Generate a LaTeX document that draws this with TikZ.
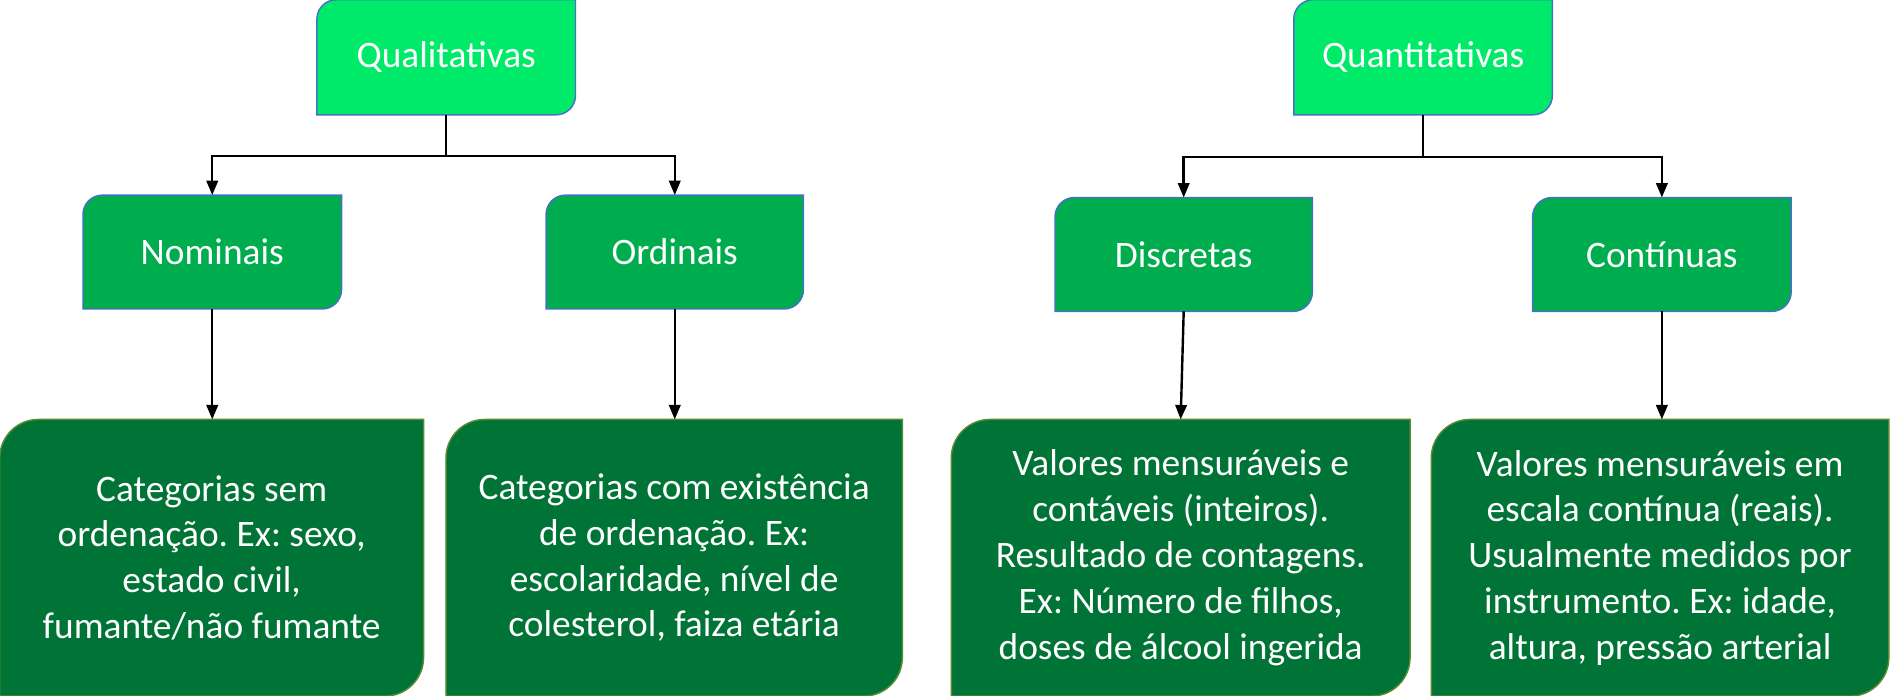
\documentclass[tikz,border=0pt]{standalone}
\usepackage{fontspec}
\setmainfont{Carlito}
\usetikzlibrary{arrows.meta}
\definecolor{topgreen}{HTML}{00EA6A}
\definecolor{midgreen}{HTML}{00AD4E}
\definecolor{darkgreen}{HTML}{007436}
\definecolor{bluebord}{HTML}{4472C4}
\definecolor{olivebord}{HTML}{5A8A32}
\pgfdeclarelayer{background}
\pgfsetlayers{background,main}
\frenchspacing
% #1 node name, #2 corner radius, #3 style
\newcommand\cutbox[3]{%
  \path[#3] (#1.south west) -- ([yshift=-#2]#1.north west)
    arc[start angle=180,end angle=90,radius=#2] -- (#1.north east)
    -- ([yshift=#2]#1.south east)
    arc[start angle=0,end angle=-90,radius=#2] -- cycle;}
\tikzset{
  catnode/.style={rectangle, inner sep=0pt, text=white,
    font=\fontsize{31}{38}\selectfont\frenchspacing, align=center},
  topshape/.style={fill=topgreen, draw=bluebord, line width=1.2pt},
  midshape/.style={fill=midgreen, draw=bluebord, line width=1.2pt},
  descshape/.style={fill=darkgreen, draw=olivebord, line width=1.2pt},
  conn/.style={draw=black, line width=2pt, -{Triangle[length=12pt,width=9.5pt]}}
}
\begin{document}
\begin{tikzpicture}[x=1pt,y=1pt]
\useasboundingbox (0,0) rectangle (1568,-577);
% top level
\node[catnode, minimum width=214pt, minimum height=95pt] (q1) at (370,-47.5) {Qualitativas};
\node[catnode, minimum width=214pt, minimum height=95pt] (q2) at (1180,-47.5) {Quantitativas};
% middle level
\node[catnode, minimum width=214pt, minimum height=94pt] (n1) at (176,-209) {Nominais};
\node[catnode, minimum width=213pt, minimum height=94pt] (n2) at (559.5,-209) {Ordinais};
\node[catnode, minimum width=213pt, minimum height=94pt] (n3) at (981.5,-211) {Discretas};
\node[catnode, minimum width=214pt, minimum height=94pt] (n4) at (1378,-211) {Contínuas};
% descriptions
\node[catnode, minimum width=351pt, minimum height=229pt] (d1) at (175.5,-462.5)
  {Categorias sem\\ordenação. Ex: sexo,\\estado civil,\\fumante/não fumante};
\node[catnode, minimum width=378pt, minimum height=229pt] (d2) at (559,-462.5)
  {Categorias com existência\\de ordenação. Ex:\\escolaridade, nível de\\colesterol, faiza etária};
\node[catnode, minimum width=380pt, minimum height=229pt] (d3) at (979,-462.5)
  {Valores mensuráveis e\\contáveis (inteiros).\\Resultado de contagens.\\Ex: Número de filhos,\\doses de álcool ingerida};
\node[catnode, minimum width=379pt, minimum height=229pt] (d4) at (1376.5,-462.5)
  {Valores mensuráveis em\\escala contínua (reais).\\Usualmente medidos por\\instrumento. Ex: idade,\\altura, pressão arterial};
\begin{pgfonlayer}{background}
  \cutbox{q1}{16pt}{topshape}
  \cutbox{q2}{16pt}{topshape}
  \cutbox{n1}{16pt}{midshape}
  \cutbox{n2}{16pt}{midshape}
  \cutbox{n3}{16pt}{midshape}
  \cutbox{n4}{16pt}{midshape}
  \cutbox{d1}{32pt}{descshape}
  \cutbox{d2}{32pt}{descshape}
  \cutbox{d3}{32pt}{descshape}
  \cutbox{d4}{32pt}{descshape}
\end{pgfonlayer}
% connectors
\draw[conn] (q1.south) -- ++(0,-34) -| (n1.north);
\draw[conn] (q1.south) -- ++(0,-34) -| (n2.north);
\draw[conn] (q2.south) -- ++(0,-35) -| (n3.north);
\draw[conn] (q2.south) -- ++(0,-35) -| (n4.north);
\draw[conn] (n1.south) -- (n1.south |- d1.north);
\draw[conn] (n2.south) -- (n2.south |- d2.north);
\draw[conn] (n3.south) -- (d3.north);
\draw[conn] (n4.south) -- (n4.south |- d4.north);
\end{tikzpicture}
\end{document}
